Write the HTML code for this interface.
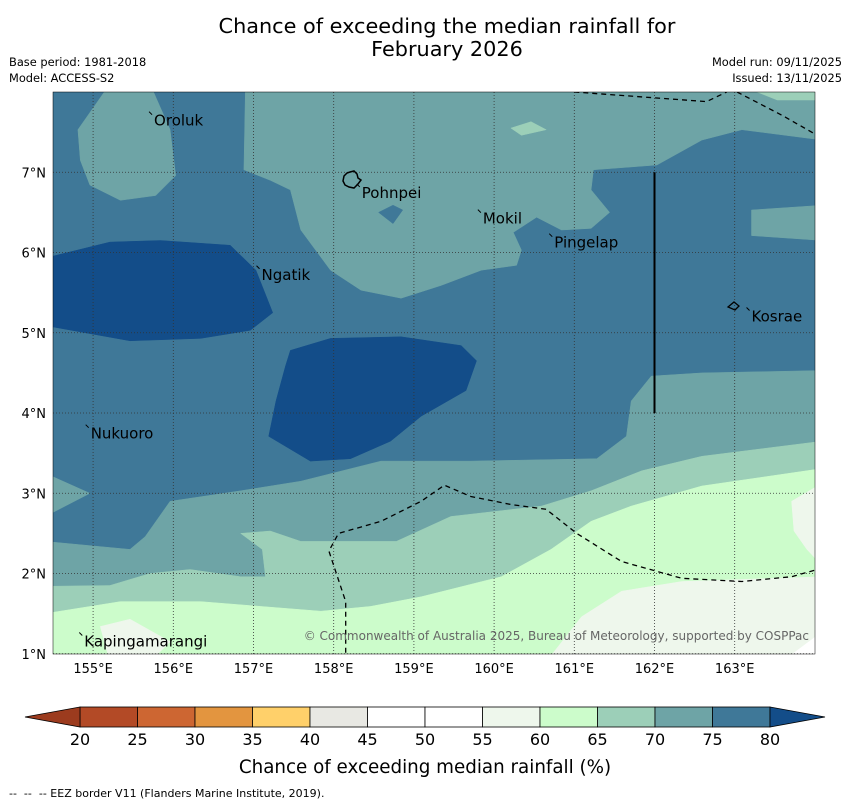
<!DOCTYPE html>
<html><head><meta charset="utf-8">
<style>
body{margin:0;background:#fff;font-family:"DejaVu Sans","Liberation Sans",sans-serif;}
svg text{font-family:"DejaVu Sans","Liberation Sans",sans-serif;white-space:pre;}
</style></head>
<body>
<svg id="chart" width="850" height="804" xmlns="http://www.w3.org/2000/svg">
<text x="447" y="33" text-anchor="middle" font-size="20.8">Chance of exceeding the median rainfall for</text>
<text x="447" y="56" text-anchor="middle" font-size="20.8">February 2026</text>
<text x="9" y="66" font-size="11.4">Base period: 1981-2018</text>
<text x="9" y="82" font-size="11.4">Model: ACCESS-S2</text>
<text x="842" y="66" font-size="11.4" text-anchor="end">Model run: 09/11/2025</text>
<text x="842" y="82" font-size="11.4" text-anchor="end">Issued: 13/11/2025</text>
<defs><clipPath id="mapclip"><rect x="53" y="92" width="762" height="562"/></clipPath></defs>
<g id="map" clip-path="url(#mapclip)"></g>
<g id="overlay"></g>
<g id="cbar"></g>
<text x="425" y="773" text-anchor="middle" font-size="18.3">Chance of exceeding median rainfall (%)</text>
<text x="9" y="797" font-size="11">--  --  -- EEZ border V11 (Flanders Marine Institute, 2019).</text>
</svg>
<script>
const lonTicks=[155,156,157,158,159,160,161,162,163];
const latTicks=[1,2,3,4,5,6,7];
const levelColors={'50':'#ffffff','55':'#eef7ec','60':'#ccfccb','65':'#9ccfb8','70':'#6ea4a6','75':'#3f7898','80':'#134d89'};
const region70Top=[[156.9,8.1],[156.88,7.03],[157.21,6.9],[157.46,6.78],[157.59,6.28],[157.96,5.78],[158.34,5.53],[158.84,5.43],[159.34,5.59],[159.84,5.78],[160.28,5.84],[160.34,6.03],[160.24,6.25],[160.53,6.44],[160.84,6.28],[161.21,6.3],[161.44,6.5],[161.21,6.78],[161.24,7.03],[162.03,7.09],[162.59,7.4],[163.09,7.53],[164.1,7.4],[164.1,8.1]];
const region70Blob=[[154.81,7.53],[155.21,8.1],[155.71,8.1],[155.96,7.53],[156.03,6.96],[155.78,6.71],[155.34,6.65],[154.96,6.84],[154.84,7.15]];
const region70Right=[[163.21,6.53],[164.1,6.59],[164.1,6.15],[163.21,6.21]];
const region70Bottom=[[154.4,2.4],[155.46,2.3],[155.65,2.46],[155.96,2.9],[156.84,3.03],[157.59,3.15],[158.59,3.4],[159.71,3.4],[161.28,3.43],[161.65,3.71],[161.71,4.15],[161.96,4.46],[162.59,4.5],[164.1,4.53],[164.1,0.9],[154.4,0.9]];
const region70Left=[[154.4,3.25],[154.96,3.0],[154.4,2.71]];
const region65=[[154.4,1.84],[155.21,1.85],[155.71,2.0],[156.21,2.05],[156.84,1.96],[157.15,1.96],[157.11,2.3],[156.84,2.5],[157.21,2.53],[157.59,2.4],[158.78,2.4],[159.46,2.71],[160.59,2.84],[161.21,3.03],[161.84,3.28],[162.59,3.46],[164.1,3.65],[164.1,0.9],[154.4,0.9]];
const region65Top=[[163.03,8.1],[164.1,8.1],[164.1,7.9],[163.53,7.9]];
const region65Blob=[[160.21,7.55],[160.46,7.63],[160.65,7.53],[160.34,7.46]];
const region60=[[154.4,1.5],[155.34,1.65],[156.34,1.65],[157.09,1.59],[157.84,1.53],[158.46,1.59],[159.09,1.71],[160.09,1.96],[160.71,2.3],[161.21,2.65],[161.71,2.84],[162.59,3.09],[164.1,3.31],[164.1,0.9],[154.4,0.9]];
const region55=[[160.65,0.9],[161.09,1.46],[161.59,1.78],[162.34,1.9],[163.21,1.93],[164.1,1.96],[164.1,0.9]];
const region55Right=[[163.71,2.9],[164.1,3.13],[164.1,2.09],[163.9,2.3],[163.74,2.53]];
const region55Left=[[155.09,1.34],[155.46,1.43],[155.96,1.15],[155.71,0.9],[155.21,0.9]];
const region50=[[163.59,0.9],[164.1,1.28],[164.1,0.9]];
const region80Left=[[154.4,5.93],[155.21,6.13],[155.84,6.15],[156.71,6.09],[157.03,5.78],[157.24,5.25],[156.96,5.03],[156.34,4.93],[155.46,4.9],[154.4,5.09]];
const region80Mid=[[157.46,4.78],[157.96,4.93],[158.84,4.95],[159.59,4.84],[159.78,4.65],[159.65,4.28],[159.09,3.96],[158.71,3.65],[158.21,3.43],[157.71,3.4],[157.19,3.71],[157.28,4.15],[157.4,4.59]];
const region75Pohnpei=[[158.56,6.5],[158.74,6.59],[158.86,6.53],[158.74,6.36]];
const eezTop1=[[161.0,8],[162.65,7.88],[162.9,8]];
const eezTop2=[[163.03,8],[163.59,7.71],[164.1,7.42]];
const eezBottom=[[158.15,0.9],[158.15,1.65],[157.94,2.28],[158.06,2.5],[158.59,2.65],[159.09,2.9],[159.38,3.1],[159.71,2.96],[160.21,2.86],[160.65,2.8],[161.03,2.5],[161.59,2.15],[162.34,1.94],[163.09,1.9],[163.71,1.96],[164.1,2.07]];
const islandNames=['Oroluk','Pohnpei','Mokil','Pingelap','Ngatik','Kosrae','Nukuoro','Kapingamarangi'];
const islandLons=[155.76,158.35,159.86,160.75,157.1,163.21,154.97,154.89];
const islandLats=[7.58,6.68,6.36,6.06,5.66,5.14,3.68,1.09];

const cbarLevels=[20,25,30,35,40,45,50,55,60,65,70,75,80];
const cbarColors=['#b34a26','#cd6632','#e3953f','#ffd06a','#e8e8e3','#ffffff','#ffffff','#eef7ec','#ccfccb','#9ccfb8','#6ea4a6','#3f7898'];

const NS='http://www.w3.org/2000/svg';
const X0=53,Y0=92,W=762,H=562,LON0=154.5,LAT1=8,PX=80.2;
function xs(lon){return X0+(lon-LON0)*PX;}
function ys(lat){return Y0+(LAT1-lat)*80.25;}
function mk(t,a,p){const e=document.createElementNS(NS,t);for(const k in a)e.setAttribute(k,a[k]);p.appendChild(e);return e;}
function pts(arr){return arr.map(p=>xs(p[0]).toFixed(1)+','+ys(p[1]).toFixed(1)).join(' ');}
const map=document.getElementById('map');
const bg=mk('rect',{x:X0,y:Y0,width:W,height:H,fill:levelColors['75']},map);


const layers=[[region70Top,'70','region-70-top'],[region70Blob,'70','region-70-oroluk'],[region70Right,'70','region-70-right'],[region70Bottom,'70','region-70-bottom'],[region70Left,'70','region-70-left'],[region65,'65','region-65'],[region65Top,'65','region-65-top'],[region65Blob,'65','region-65-blob'],[region60,'60','region-60'],[region55,'55','region-55'],[region55Right,'55','region-55-right'],[region55Left,'55','region-55-left'],[region50,'50','region-50'],[region80Left,'80','region-80-left'],[region80Mid,'80','region-80-mid'],[region75Pohnpei,'75','region-75-pohnpei']];
layers.forEach(l=>{
 const e=mk('polygon',{points:pts(l[0]),fill:levelColors[l[1]],stroke:levelColors[l[1]],'stroke-width':0.5},map);
 
 
});
const ov=document.getElementById('overlay');
lonTicks.forEach(v=>{
 const l=mk('line',{x1:xs(v),x2:xs(v),y1:Y0,y2:Y0+H,stroke:'#333','stroke-width':0.8,'stroke-dasharray':'1,2'},ov);
 
 
 const t=mk('text',{x:xs(v),y:673,'text-anchor':'middle','font-size':13},ov);t.textContent=v+'°E';
 
 
});
latTicks.forEach(v=>{
 const l=mk('line',{x1:X0,x2:X0+W,y1:ys(v),y2:ys(v),stroke:'#333','stroke-width':0.8,'stroke-dasharray':'1,2'},ov);
 
 
 const t=mk('text',{x:46,y:ys(v)+5,'text-anchor':'end','font-size':13},ov);t.textContent=v+'°N';
 
 
});
const g2=mk('g',{'clip-path':'url(#mapclip)'},ov);
[eezTop1,eezTop2,eezBottom].forEach((a,i)=>{
 const e=mk('polyline',{points:pts(a),fill:'none',stroke:'#000','stroke-width':1.3,'stroke-dasharray':'5,4'},g2);
 
 
});
const vl=mk('line',{x1:xs(162),x2:xs(162),y1:ys(7),y2:ys(4),stroke:'#000','stroke-width':2},g2);


const pohn=mk('path',{d:'M344,176 L347,173 L350,172 L354,171 L357,174 L358,178 L361,180 L358,184 L354,188 L349,187 L345,185 L343,181 Z',fill:'none',stroke:'#000','stroke-width':1.5},ov);


const kos=mk('path',{d:'M728,307 L734,302 L739,306 L735,310 Z',fill:'none',stroke:'#000','stroke-width':1.3},ov);


islandNames.forEach((n,i)=>{
 const t=mk('text',{x:xs(islandLons[i]),y:ys(islandLats[i]),'font-size':15},ov);t.textContent=n;
 
 
 const m=mk('line',{x1:xs(islandLons[i])-5,y1:ys(islandLats[i])-14,x2:xs(islandLons[i])-2,y2:ys(islandLats[i])-11,stroke:'#000','stroke-width':1},ov);
 
 
});
const cr=mk('text',{x:809,y:640,'text-anchor':'end','font-size':12,fill:'#666'},ov);
cr.textContent='© Commonwealth of Australia 2025, Bureau of Meteorology, supported by COSPPac';


const fr=mk('rect',{x:X0,y:Y0,width:W,height:H,fill:'none',stroke:'#000','stroke-width':0.5},ov);



const cb=document.getElementById('cbar');
const CX0=80,CX1=770,CY=707,CH=20;
function cx(v){return CX0+(v-20)/60*(CX1-CX0);}
cbarColors.forEach((c,i)=>{
 const r=mk('rect',{x:cx(cbarLevels[i]),y:CY,width:cx(cbarLevels[i+1])-cx(cbarLevels[i]),height:CH,fill:c,stroke:'#000','stroke-width':0.8},cb);
 
 
});
const lt=mk('polygon',{points:`${CX0},${CY} 25,${CY+CH/2} ${CX0},${CY+CH}`,fill:'#9c3b1e',stroke:'#000','stroke-width':0.8},cb);


const rt=mk('polygon',{points:`${CX1},${CY} 825,${CY+CH/2} ${CX1},${CY+CH}`,fill:'#134d89',stroke:'#000','stroke-width':0.8},cb);


cbarLevels.forEach(v=>{
 const t=mk('text',{x:cx(v),y:745,'text-anchor':'middle','font-size':16},cb);t.textContent=v;
 
 
});
</script>
</body></html>
